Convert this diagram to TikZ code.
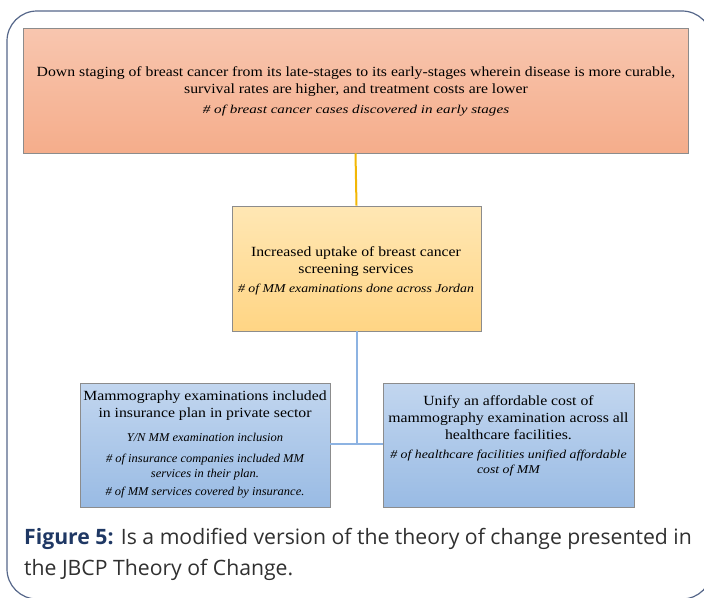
\documentclass[tikz,border=0pt]{standalone}
\usepackage{fontspec}
\setmainfont{Liberation Serif}
\newfontfamily\boxfont[FakeStretch=1.125]{Liberation Serif}
\newfontfamily\itA[FakeStretch=1.26]{Liberation Serif}
\newfontfamily\itB[FakeStretch=1.15]{Liberation Serif}
\newfontfamily\itC[FakeStretch=1.04]{Liberation Serif}
\newfontfamily\itD[FakeStretch=1.15]{Liberation Serif}
\newfontfamily\capfont{Open Sans}
\definecolor{framec}{HTML}{56678A}
\definecolor{otop}{HTML}{F8C6AF}
\definecolor{obot}{HTML}{F5AD8B}
\definecolor{ytop}{HTML}{FFE7B4}
\definecolor{ybot}{HTML}{FFD584}
\definecolor{btop}{HTML}{C2D6EF}
\definecolor{bbot}{HTML}{99BBE4}
\definecolor{boxline}{HTML}{8C8C8C}
\definecolor{goldc}{HTML}{F2B705}
\definecolor{bluec}{HTML}{8DB3E2}
\definecolor{navy}{HTML}{1F3864}
\definecolor{captxt}{HTML}{303030}
\tikzset{
  box/.style={draw=boxline, line width=0.8pt, inner sep=0pt},
  obox/.style={box, top color=otop, bottom color=obot},
  ybox/.style={box, top color=ytop, bottom color=ybot},
  bbox/.style={box, top color=btop, bottom color=bbot},
  maintxt/.style={align=center, inner sep=0pt, font=\boxfont\fontsize{14}{17}\selectfont},
  ittxt/.style={align=center, inner sep=0pt, font=#1\itshape\fontsize{12}{15}\selectfont},
  goldline/.style={draw=goldc, line width=2pt},
  blueline/.style={draw=bluec, line width=2pt},
  captionline/.style={anchor=base west, inner sep=0pt, font=\capfont\fontsize{21.2}{26}\selectfont, text=captxt}
}
\begin{document}
\begin{tikzpicture}[x=1pt,y=-1pt]
\useasboundingbox (0,0) rectangle (704,597);
\begin{scope}
\clip (0,0) rectangle (704,597);
\draw[framec, line width=1.2pt, rounded corners=30pt] (7,11) rectangle (712,599);
\end{scope}
% boxes
\node[obox, minimum width=665pt, minimum height=125pt] (top) at (355.5,90.5) {};
\node[ybox, minimum width=249pt, minimum height=125pt] (mid) at (356.5,268.5) {};
\node[bbox, minimum width=250pt, minimum height=124pt] (lb) at (205,445) {};
\node[bbox, minimum width=251pt, minimum height=124pt] (rb) at (508.5,445) {};
% connectors
\coordinate (j) at (356,444);
\draw[goldline] (top.south) -- (mid.north);
\draw[blueline] (mid.south) -- (mid.south |- j);
\draw[blueline] (lb.east |- j) -- (rb.west |- j);
% texts
\node[maintxt] (t1) at (356,82) {Down staging of breast cancer from its late-stages to its early-stages wherein disease is more curable,\\ survival rates are higher, and treatment costs are lower};
\node[ittxt=\itA] (t1i) at (356,111) {\# of breast cancer cases discovered in early stages};
\node[maintxt] (t2) at (356,262) {Increased uptake of breast cancer\\ screening services};
\node[ittxt=\itB] (t2i) at (356,290) {\# of MM examinations done across Jordan};
\node[maintxt] (t3) at (205,406) {Mammography examinations included\\ in insurance plan in private sector};
\node[ittxt=\itC] (t3a) at (205,437.5) {Y/N MM examination inclusion};
\node[ittxt=\itC] (t3b) at (205,467) {\# of insurance companies included MM\\ services in their plan.};
\node[ittxt=\itC] (t3c) at (205,492.5) {\# of MM services covered by insurance.};
\node[maintxt] (t4) at (508.5,417.5) {Unify an affordable cost of\\ mammography examination across all\\ healthcare facilities.};
\node[ittxt=\itD] (t4i) at (508.5,463) {\# of healthcare facilities unified affordable\\ cost of MM};
% caption
\node[captionline] (c1) at (24,544.5) {{\bfseries\color{navy}Figure 5:} Is a modified version of the theory of change presented in};
\node[captionline] (c2) at (24,575) {the JBCP Theory of Change.};
\end{tikzpicture}
\end{document}
